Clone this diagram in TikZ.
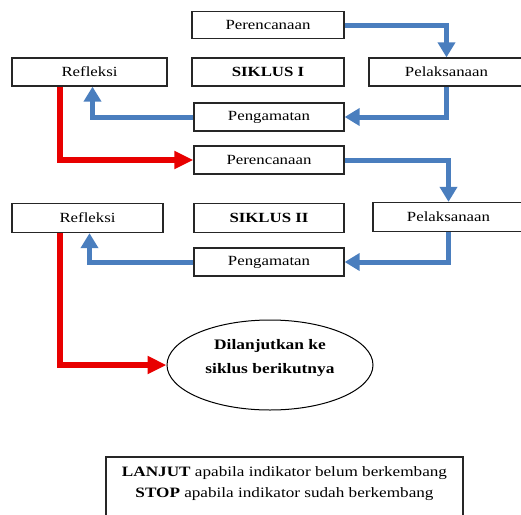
\documentclass[tikz,border=0pt]{standalone}
\usepackage{fontspec}
\setmainfont{Liberation Serif}[FakeStretch=1.2]
\usetikzlibrary{arrows.meta,shapes.geometric}
\definecolor{flowblue}{RGB}{74,126,190}
\definecolor{flowred}{RGB}{232,0,0}
\begin{document}
\begin{tikzpicture}[x=1pt,y=-1pt,
  box/.style={draw=black!85,line width=1.3pt,minimum height=28pt,inner sep=0pt,fill=white,font=\fontsize{14}{16}\selectfont},
  blu/.style={draw=flowblue,line width=5pt,-{Triangle[width=17pt,length=15pt]}},
  redarrow/.style={draw=flowred,line width=6pt,-{Triangle[width=17pt,length=19pt]}},
  txt/.style={inner sep=0pt,font=\fontsize{14.3}{16}\selectfont}]
\useasboundingbox (0,0) rectangle (521,514);
% cycle I
\node[box,minimum width=152pt,minimum height=27pt] (per1) at (268,25) {Perencanaan};
\node[box,minimum width=152pt] (sik1) at (268,72) {\textbf{SIKLUS I}};
\node[box,minimum width=155pt] (ref1) at (89.5,72) {Refleksi};
\node[box,minimum width=155pt] (pel1) at (446.5,72) {Pelaksanaan};
\node[box,minimum width=150pt] (peng1) at (269,117) {Pengamatan};
% cycle II
\node[box,minimum width=150pt] (per2) at (269,160) {Perencanaan};
\node[box,minimum width=151pt,minimum height=29pt] (ref2) at (87.5,218) {Refleksi};
\node[box,minimum width=150pt,minimum height=29pt] (sik2) at (269,218) {\textbf{SIKLUS II}};
\node[box,minimum width=151pt,minimum height=29pt] (pel2) at (448.5,217) {Pelaksanaan};
\node[box,minimum width=150pt] (peng2) at (269,262) {Pengamatan};
% ellipse
\node[draw=black,line width=1pt,ellipse,minimum width=206pt,minimum height=90pt,inner sep=0pt,align=center,font=\fontsize{14.5}{24}\selectfont\bfseries] (ell) at (270,365) {Dilanjutkan ke\\siklus berikutnya\\[-6pt]};
% legend
\node[draw=black!85,line width=1.3pt,minimum width=357pt,minimum height=62pt,inner sep=0pt] (legend) at (284.5,488) {};
\node[txt] (l1) at (284.5,473) {\textbf{LANJUT} apabila indikator belum berkembang};
\node[txt] (l2) at (284.5,494) {\textbf{STOP} apabila indikator sudah berkembang};
% blue connectors
\draw[blu] (per1.east) -| (pel1.north);
\draw[blu] (pel1.south) |- (peng1.east);
\draw[blu] (peng1.west) -| ([xshift=3pt]ref1.south);
\draw[blu] (per2.east) -| (pel2.north);
\draw[blu] (pel2.south) |- (peng2.east);
\draw[blu] (peng2.west) -| ([xshift=2pt]ref2.south);
% red connectors
\draw[redarrow] ([xshift=-29.5pt]ref1.south) |- (per2.west);
\draw[redarrow] ([xshift=-27.5pt]ref2.south) |- (ell.west);
\end{tikzpicture}
\end{document}
